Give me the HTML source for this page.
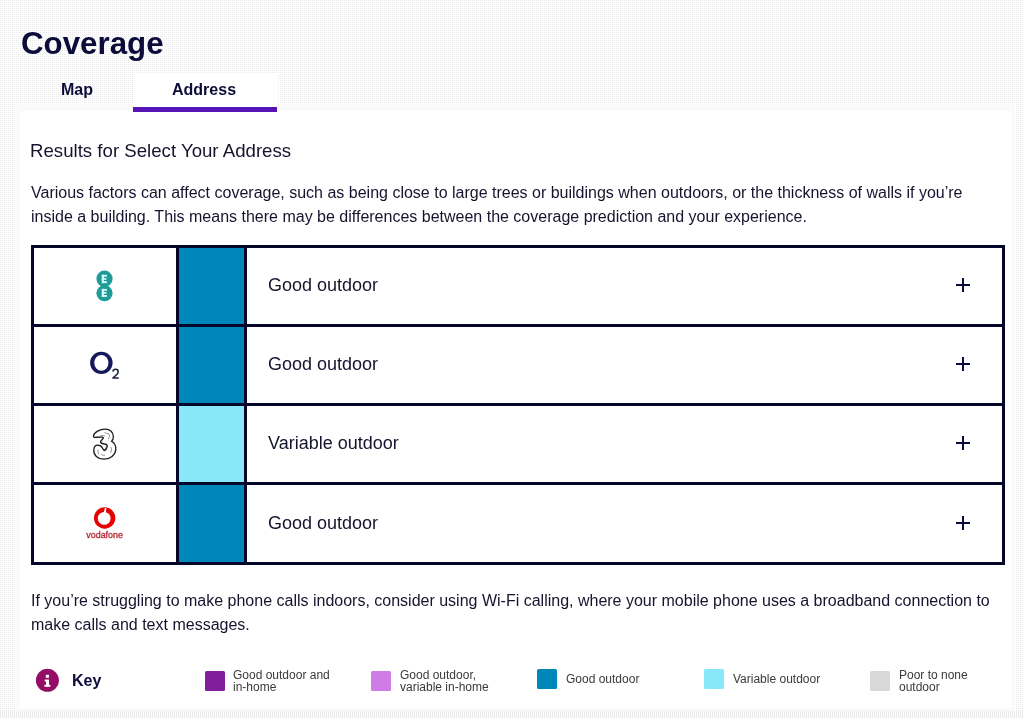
<!DOCTYPE html>
<html><head><meta charset="utf-8">
<style>
html,body{margin:0;padding:0;}
body{width:1024px;height:718px;overflow:hidden;position:relative;background-color:#fff;background-image:linear-gradient(90deg,rgba(255,255,255,0) 50%,#fff 50%),linear-gradient(180deg,#eaeaea 50%,#fff 50%);background-size:2px 2px;font-family:"Liberation Sans",sans-serif;}
.a{position:absolute;white-space:nowrap;will-change:transform;}
#title{left:21px;top:24px;font-size:31.3px;line-height:40px;font-weight:bold;color:#0c0c3a;}
#tabmap{left:20px;top:73px;width:113px;height:38px;}
#tabaddr{left:133px;top:73px;width:144px;height:38px;background:#fff;}
#tabbar{left:133px;top:107px;width:144px;height:5px;background:#5514b4;}
.tabt{font-size:16px;font-weight:bold;color:#0c0c3a;line-height:20px;top:80px;}
#panel{left:16px;top:104px;width:999px;height:607px;background:#fff;box-sizing:border-box;border-style:solid;border-color:#fafafa;border-width:7px 3px 3px 4px;}
#h2{left:30px;top:140px;font-size:18.65px;line-height:22px;color:#14142e;}
.p{font-size:16px;line-height:24px;color:#14142e;}
#tbl{left:31px;top:245px;width:974px;height:320px;background:#06062a;}
.cell{position:absolute;background:#fff;}
.sw{position:absolute;}
.rt{position:absolute;will-change:transform;left:268px;font-size:18px;line-height:22px;color:#14142e;white-space:nowrap;}
.plus{position:absolute;left:956px;width:14px;height:14px;}
.plus:before{content:"";position:absolute;left:0;top:6px;width:14px;height:2px;background:#0c0c3a;}
.plus:after{content:"";position:absolute;left:6px;top:0;width:2px;height:14px;background:#0c0c3a;}
.ks{position:absolute;width:20px;height:20px;border-radius:1.5px;}
.kt{position:absolute;will-change:transform;font-size:12px;line-height:12px;color:#3a3a3a;white-space:nowrap;}
</style></head>
<body>
<div class="a" id="title">Coverage</div>
<div class="a" id="tabmap"></div>
<div class="a" id="panel"></div>
<div class="a" id="tabaddr"></div>
<div class="a" id="tabbar"></div>
<div class="a tabt" style="left:61px">Map</div>
<div class="a tabt" style="left:172px">Address</div>

<div class="a" id="h2">Results for Select Your Address</div>
<div class="a p" style="left:31px;top:181px;">Various factors can affect coverage, such as being close to large trees or buildings when outdoors, or the thickness of walls if you’re<br>inside a building. This means there may be differences between the coverage prediction and your experience.</div>

<div class="a" id="tbl">
  <!-- rows: content y (relative) -->
</div>
<div class="cell" style="left:34px;top:248px;width:142px;height:76px;"></div>
<div class="cell" style="left:179px;top:248px;width:65px;height:76px;background:#0087b9"></div>
<div class="cell" style="left:247px;top:248px;width:755px;height:76px;"></div>
<div class="rt" style="top:274px">Good outdoor</div>
<div class="plus" style="top:278px"></div>
<div class="cell" style="left:34px;top:327px;width:142px;height:76px;"></div>
<div class="cell" style="left:179px;top:327px;width:65px;height:76px;background:#0087b9"></div>
<div class="cell" style="left:247px;top:327px;width:755px;height:76px;"></div>
<div class="rt" style="top:353px">Good outdoor</div>
<div class="plus" style="top:357px"></div>
<div class="cell" style="left:34px;top:406px;width:142px;height:76px;"></div>
<div class="cell" style="left:179px;top:406px;width:65px;height:76px;background:#88e8fa"></div>
<div class="cell" style="left:247px;top:406px;width:755px;height:76px;"></div>
<div class="rt" style="top:432px">Variable outdoor</div>
<div class="plus" style="top:436px"></div>
<div class="cell" style="left:34px;top:485px;width:142px;height:77px;"></div>
<div class="cell" style="left:179px;top:485px;width:65px;height:77px;background:#0087b9"></div>
<div class="cell" style="left:247px;top:485px;width:755px;height:77px;"></div>
<div class="rt" style="top:512px">Good outdoor</div>
<div class="plus" style="top:516px"></div>

<div class="a p" style="left:31px;top:589px;">If you’re struggling to make phone calls indoors, consider using Wi-Fi calling, where your mobile phone uses a broadband connection to<br>make calls and text messages.</div>

<svg class="a" style="left:0;top:0;" width="1024" height="718" viewBox="0 0 1024 718">
<!-- EE -->
<circle cx="104.5" cy="278.7" r="8.1" fill="#1d9c98"/>
<circle cx="104.5" cy="293.2" r="8.1" fill="#1d9c98"/>
<g fill="#d8fbfb">
<rect x="101.8" y="274.8" width="5.1" height="1.9"/><rect x="101.8" y="274.8" width="2.1" height="8.3"/><rect x="101.8" y="278.1" width="4.6" height="1.7"/><rect x="101.8" y="281.2" width="5.1" height="1.9"/>
<rect x="101.8" y="288.9" width="5.1" height="1.9"/><rect x="101.8" y="288.9" width="2.1" height="8"/><rect x="101.8" y="292" width="4.6" height="1.7"/><rect x="101.8" y="295" width="5.1" height="1.9"/>
</g>
<!-- O2 -->
<path fill-rule="evenodd" fill="#16195a" d="M90.1,362.85 a11.25,11.15 0 1,0 22.5,0 a11.25,11.15 0 1,0 -22.5,0 Z M94.25,362.85 a7.1,7.95 0 1,0 14.2,0 a7.1,7.95 0 1,0 -14.2,0 Z"/>
<path d="M112.9,371.6 C113.1,370 114.2,369.3 115.6,369.3 C117.2,369.3 118.2,370.3 118.2,371.7 C118.2,373.2 117.2,374.3 115.8,375.5 L113,377.9 L118.8,377.9" fill="none" stroke="#1c2636" stroke-width="1.55" stroke-linejoin="round"/>
<!-- Three -->
<path d="M93.5,436 C94,432 100,429.2 105,429.2 C110,429.3 113.5,432 113.4,437 C113.3,439 112.6,440.4 111.6,441.3 C114.5,443 116,446 115.8,449.5 C115.5,455 110,459.2 104,459.2 C97.5,459 93.5,455 93.8,450 C94,446.5 96,445.2 97.8,445.2 C100,445.2 101.6,446.2 102.6,448.2 C103.2,449.5 103.6,450.4 104.2,450.6 C105.5,450 106.8,448.5 107.2,446.5 C107.4,445 106.5,444.4 105.2,444.2 C103.2,443.9 101.2,443.6 100.6,442.4 C100.2,441.2 101.5,440 102.6,439 C103.6,438 103.8,437.4 102.5,437.2 C99.5,436.8 96,437.5 94.6,437.3 C93.9,437.2 93.4,436.8 93.5,436 Z" fill="#fff" stroke="#1a1a1a" stroke-width="1.3"/>
<path d="M104.5,432.6 C106,433.5 107.5,433.2 109,434.2 C110,435.5 109.6,437.5 108.2,439 M99.5,436.2 C101.5,435.5 103.5,435.2 105,435.8 M98.2,449.5 C97.8,451 97.8,452.5 98.5,454 M101.2,454.5 C102.5,455.3 103.8,455.5 105,455 M110.8,447 C111.8,448.5 111.8,450.5 110.5,452.8 M105.8,446.5 C106.2,447.5 105.8,448.5 105.2,449.2" fill="none" stroke="#777" stroke-width="0.8"/>
<!-- Vodafone -->
<circle cx="104.65" cy="517.95" r="10.7" fill="#e60000"/>
<circle cx="104.2" cy="518.4" r="6.4" fill="#fff"/>
<path d="M103.6,513 L104.9,508 L106.3,507.9 L106.1,512.6 Z" fill="#fff"/>
<path d="M106.3,511.5 C107,509.5 108.5,508.8 110,509.5 C108.8,510.2 108,511.3 107.7,513 Z" fill="#d40000"/>
<text x="104.6" y="538.3" text-anchor="middle" font-family="Liberation Sans" font-size="8.9" fill="#b8303e" stroke="#b8303e" stroke-width="0.35">vodafone</text>
<!-- info -->
<circle cx="47.4" cy="680.3" r="11.5" fill="#940e68"/>
<g fill="#fff"><rect x="45.8" y="674.8" width="3.2" height="3"/><rect x="46" y="679.6" width="3" height="7.1"/><rect x="44.6" y="679.6" width="2" height="1.8"/><rect x="44.4" y="684.8" width="6" height="1.9"/></g>
</svg>
<div class="a" style="left:0;top:711px;width:1024px;height:7px;background-color:#fff;background-image:linear-gradient(90deg,#e8e8e8 50%,#fff 50%);background-size:2px 2px;"></div>

<!-- key -->
<div class="a" style="left:72px;top:671px;font-size:16px;line-height:20px;font-weight:bold;color:#0c0c3a;">Key</div>

<div class="ks" style="left:205px;top:671px;background:#801e9c;"></div>
<div class="kt" style="left:233px;top:669px;">Good outdoor and<br>in-home</div>
<div class="ks" style="left:371px;top:671px;background:#cf7be8;"></div>
<div class="kt" style="left:400px;top:669px;">Good outdoor,<br>variable in-home</div>
<div class="ks" style="left:537px;top:669px;background:#0087b9;"></div>
<div class="kt" style="left:566px;top:673px;">Good outdoor</div>
<div class="ks" style="left:704px;top:669px;background:#88e8fa;"></div>
<div class="kt" style="left:733px;top:673px;">Variable outdoor</div>
<div class="ks" style="left:870px;top:671px;background:#d8d8d8;"></div>
<div class="kt" style="left:899px;top:669px;">Poor to none<br>outdoor</div>
</body></html>
